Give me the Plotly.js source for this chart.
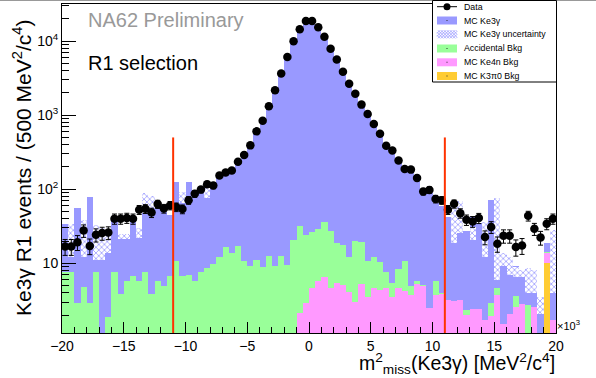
<!DOCTYPE html>
<html><head><meta charset="utf-8">
<script src="https://cdn.plot.ly/plotly-3.0.1.min.js"></script>
<style>body{margin:0;background:#fff}#c{width:596px;height:378px}</style>
</head><body><div id="c"></div>
<script>
// bin lower edge and width (MeV^2/c^4)
const binLow = -20000, binWidth = 500, nBins = 80;
const binCenters = Array.from({length: nBins}, (_, i) => binLow + binWidth * (i + 0.5));

// Data counts and errors
const dataCounts = [16.9,16.9,19.3,27.7,17.2,24.3,25.6,26,40,40, 41,40,53,54.5,48.5,63,55,60.5,57.5,54,
  71,87,99,117,112,153,168,179,235,290, 391,604,843,1315,2163,3637,6112,9930,14380,18620,
  18620,15300,11430,7870,5650,3846,2649,1940,1387,1038, 760,562,387,334,245,187,184,142,93,98,
  74,71,53,63.5,47.6,38.7,36.7,40.8,22.6,30.9, 18.4,23.5,23.5,16.6,17.4,43.8,29.2,22.3,34.2,40];
const dataErrors = [4.1,4.1,4.4,5.3,4.1,4.9,5.1,5.1,6.3,6.3, 6.4,6.3,7.3,7.4,7,7.9,7.4,7.8,7.6,7.3,
  8.4,9.3,10,10.8,10.6,12.4,13,13.4,15.3,17, 19.8,24.6,29,36,46.5,60,78,100,120,136,
  136,124,107,89,75,62,51,44,37,32, 27.6,23.7,19.7,18.3,15.7,13.7,13.6,11.9,9.6,9.9,
  8.6,8.4,7.3,8,6.9,6.2,6.1,6.4,4.8,5.6, 4.3,4.8,4.8,4.1,4.2,6.6,5.4,4.7,5.8,6.3];

// Stack tops (cumulative)
const ke3gTop = [34,12,55,12,78,11,11,14,43,21, 21,43,22,48,55,60,50,45,127,65,
  127,90,100,76,112,140,160,170,225,280, 380,580,840,1330,2150,3600,6000,9700,14000,17500,
  17500,14500,11000,7600,5500,3700,2550,1850,1330,980, 720,530,360,300,230,170,165,130,85,90,
  65,60,42,19,45,27,43,35,12,72, 14,9.1,7,9.1,6.6,4.1,4.5,3.5,18.8,4];
const uncLo = [null,12,null,12,null,11,11,14,null,21, 21,null,22,48,55,null,null,null,null,65,
  null,null,null,76,null,null,null,null,null,null, null,null,null,null,null,null,null,null,null,null,
  null,null,null,null,null,null,null,null,null,null, null,null,null,null,null,null,null,null,null,null,
  null,null,null,19,25.6,null,20.8,null,12.3,null, 6,9.1,7,6.6,6.6,4,4,2.1,null,4];
const uncHi = [null,34,null,38,null,33,30,28,null,25, 25,null,30,90,80,null,null,null,null,93,
  null,null,null,127,null,null,null,null,null,null, null,null,null,null,null,null,null,null,null,null,
  null,null,null,null,null,null,null,null,null,null, null,null,null,null,null,null,null,null,null,null,
  null,null,null,65,68.5,null,31.4,null,36.7,null, 76,13.7,12.3,9,8.2,8.6,8.2,3.55,null,28.4];
const accTop = [7.7,7.7,2.95,4.76,2.95,7.7,0,1.9,7.7,3.9, 5.7,6.8,5.7,7.7,3.9,5.7,4.9,6.8,10.6,6.8,
  6.9,5.8,7.7,8.7,9.75,12.3,16.5,13.7,16.9,10.6, 9.1,11,8.8,12.6,9.1,12.6,9.5,20.8,32,24.3,
  26.4,29.3,36,27,18.8,17.8,12,20,19.7,10.6, 12.3,10.3,7.7,5.4,8.3,10.6,4.9,5.7,5.1,2.5,
  5.7,4.0,3.2,3.05,3.2,2.35,2.4,2.4,1.73,2.9, 4.6,1.5,2.1,3.6,2.85,2.75,2.6,0,14.4,1.73];
const ke4nTop = [0,0,0,0,0,0,0,0,0,0, 0,0,0,0,0,0,0,0,0,0,
  0,0,0,0,0,0,0,0,0,0, 0,0,0,0,0,0,0,0,2.12,2.9,
  4.6,5.7,6.6,4.6,5.4,5.1,4.1,3.05,5.3,3.55, 4.6,4.4,4.7,3.55,4.7,4.2,3.7,5.3,4.9,2.48,
  3.7,3.9,3.2,3.1,3.2,2.0,2.4,2.4,1.73,1.95, 3.75,1.5,2.1,2.6,2.85,0,2.6,0,13.7,1.73];
const k3pi0Top = [0,0,0,0,0,0,0,0,0,0, 0,0,0,0,0,0,0,0,0,0,
  0,0,0,0,0,0,0,0,0,0, 0,0,0,0,0,0,0,0,0,0,
  0,0,0,0,0,0,0,0,0,0, 0,0,0,0,0,0,0,0,0,0,
  0,0,0,0,0,0,0,0,0,0, 0,0,0,0,0,0,0,0,10.1,0];

const cutLow = -11000, cutHigh = 11000, cutLineTop = 500;
const xTickVals = [-20000,-15000,-10000,-5000,0,5000,10000,15000,20000];
const xTickText = ['\u221220','\u221215','\u221210','\u22125','0','5','10','15','20'];
const yTickVals = [10,100,1000,10000];
const yTickText = ['10','10<sup>2</sup>','10<sup>3</sup>','10<sup>4</sup>'];
const legendNames = ['Data','MC Ke3\u03b3','MC Ke3\u03b3 uncertainty','Accidental Bkg','MC Ke4n Bkg','MC K3\u03c00 Bkg'];

const BLUE = '#9999ff', GREEN = '#99ff99', PINK = '#ff99ff', ORANGE = '#ffcc33', RED = '#ff3300';
const font = 'Liberation Sans, Arial, sans-serif';

const hatchH = uncHi.map((v, i) => (v == null || uncLo[i] == null) ? null : v - uncLo[i]);
const hatch = {shape:'x', fgcolor:BLUE, bgcolor:'white', size:4, solidity:0.35};

const traces = [
  {type:'bar', x:binCenters, y:ke3gTop, width:binWidth, marker:{color:BLUE, line:{width:0}}},
  {type:'bar', x:binCenters, y:hatchH, base:uncLo, width:binWidth,
   marker:{color:'white', line:{width:0}, pattern:hatch}},
  {type:'bar', x:binCenters, y:accTop, width:binWidth, marker:{color:GREEN, line:{width:0}}},
  {type:'bar', x:binCenters, y:ke4nTop, width:binWidth, marker:{color:PINK, line:{width:0}}},
  {type:'bar', x:binCenters, y:k3pi0Top, width:binWidth, marker:{color:ORANGE, line:{width:0}}},
  {type:'scatter', mode:'markers', x:binCenters, y:dataCounts,
   marker:{color:'black', size:8.5}, error_y:{type:'data', array:dataErrors, color:'black', thickness:1, width:2.5}},
];

// plot-area geometry (pixels) for the hand-made ROOT-style legend
const L = 62, R = 556, T = 4, B = 333;
const px = p => (p - L) / (R - L);
const py = p => (B - p) / (B - T);

const shapes = [
  {type:'line', xref:'x', yref:'y', x0:cutLow, x1:cutLow, y0:1.15, y1:cutLineTop, line:{color:RED,width:2}},
  {type:'line', xref:'x', yref:'y', x0:cutHigh, x1:cutHigh, y0:1.15, y1:cutLineTop, line:{color:RED,width:2}},
  {type:'line', xref:'paper', yref:'paper', x0:px(0), x1:px(596), y0:py(0.5), y1:py(0.5), line:{color:'#999999', width:1}},
  {type:'rect', xref:'paper', yref:'paper', x0:px(432.5), x1:px(556.5), y0:py(82), y1:py(0.5),
   fillcolor:'white', line:{color:'black', width:1}, layer:'above'},
];
const annotations = [];
const rowY = [6.7, 20.5, 34.3, 48.5, 62.3, 76];
const symColors = [null, BLUE, 'hatch', GREEN, PINK, ORANGE];
const sx0 = 437, sx1 = 457;
rowY.forEach((yy, k) => {
  const c = symColors[k];
  if (c === null) {
    shapes.push({type:'line', xref:'paper', yref:'paper', x0:px(sx0), x1:px(sx1), y0:py(yy), y1:py(yy), line:{color:'black', width:1}, layer:'above'});
    shapes.push({type:'circle', xref:'paper', yref:'paper', x0:px(443.5), x1:px(450.5), y0:py(yy+3.5), y1:py(yy-3.5), fillcolor:'black', line:{width:0}, layer:'above'});
  } else if (c === 'hatch') {
    let d = '';
    for (let t = sx0 - 8; t < sx1; t += 3) {
      const a0 = Math.max(t, sx0), a1 = Math.min(t + 8, sx1);
      d += `M${px(a0)},${py(yy + 4 - (a0 - t))} L${px(a1)},${py(yy + 4 - (a1 - t))} `;
      d += `M${px(a0)},${py(yy - 4 + (a0 - t))} L${px(a1)},${py(yy - 4 + (a1 - t))} `;
    }
    shapes.push({type:'path', xref:'paper', yref:'paper', path:d, line:{color:BLUE, width:0.8}, layer:'above'});
  } else {
    shapes.push({type:'rect', xref:'paper', yref:'paper', x0:px(sx0), x1:px(sx1), y0:py(yy+4), y1:py(yy-4), fillcolor:c, line:{width:0}, layer:'above'});
    shapes.push({type:'rect', xref:'paper', yref:'paper', x0:px(446.5), x1:px(447.5), y0:py(yy+0.5), y1:py(yy-0.5), fillcolor:'#333', line:{width:0}, layer:'above'});
  }
  annotations.push({xref:'paper', yref:'paper', x:px(462), y:py(yy), xanchor:'left', yanchor:'middle', showarrow:false,
    text:legendNames[k], font:{size:8.8, color:'black'}});
});

annotations.push(
  {xref:'paper', yref:'paper', x:px(86), y:py(20), xanchor:'left', yanchor:'middle', showarrow:false,
   text:'NA62 Preliminary', font:{size:20, color:'#999999'}},
  {xref:'paper', yref:'paper', x:px(86), y:py(63), xanchor:'left', yanchor:'middle', showarrow:false,
   text:'R1 selection', font:{size:20, color:'black'}},
  {xref:'paper', yref:'paper', x:px(555), y:py(325), xanchor:'left', yanchor:'middle', showarrow:false,
   text:'\u00d710<sup>3</sup>', font:{size:11}},
  {xref:'paper', yref:'paper', x:px(557), y:py(379), xanchor:'right', yanchor:'bottom', showarrow:false,
   text:'m<sup>2</sup><sub>miss</sub>(Ke3\u03b3) [MeV<sup>2</sup>/c<sup>4</sup>]', font:{size:19.5}},
  {xref:'paper', yref:'paper', x:px(22), y:py(168), xanchor:'center', yanchor:'middle', showarrow:false, textangle:-90,
   text:'Ke3\u03b3 R1 events / (500 MeV<sup>2</sup>/c<sup>4</sup>)', font:{size:21}}
);

const layout = {
  width:596, height:378, margin:{l:L, r:596-R, t:T, b:378-B},
  paper_bgcolor:'white', plot_bgcolor:'white',
  barmode:'overlay', bargap:0, showlegend:false,
  font:{family:font, size:14, color:'black'},
  xaxis:{range:[-20000,20000], showline:true, linecolor:'black', linewidth:1, mirror:true,
    tickvals:xTickVals, ticktext:xTickText, ticks:'inside', ticklen:11, tickcolor:'black',
    minor:{dtick:1000, ticks:'inside', ticklen:6, tickcolor:'black'},
    showgrid:false, zeroline:false, tickfont:{size:14}},
  yaxis:{type:'log', range:[0.06,4.5], showline:true, linecolor:'black', linewidth:1, mirror:true,
    tickvals:yTickVals, ticktext:yTickText, ticks:'inside', ticklen:14, tickcolor:'black',
    minor:{dtick:'D1', ticks:'inside', ticklen:7, tickcolor:'black'},
    showgrid:false, zeroline:false, tickfont:{size:14}},
  shapes:shapes, annotations:annotations
};
Plotly.newPlot('c', traces, layout, {displayModeBar:false, staticPlot:true});
</script></body></html>
